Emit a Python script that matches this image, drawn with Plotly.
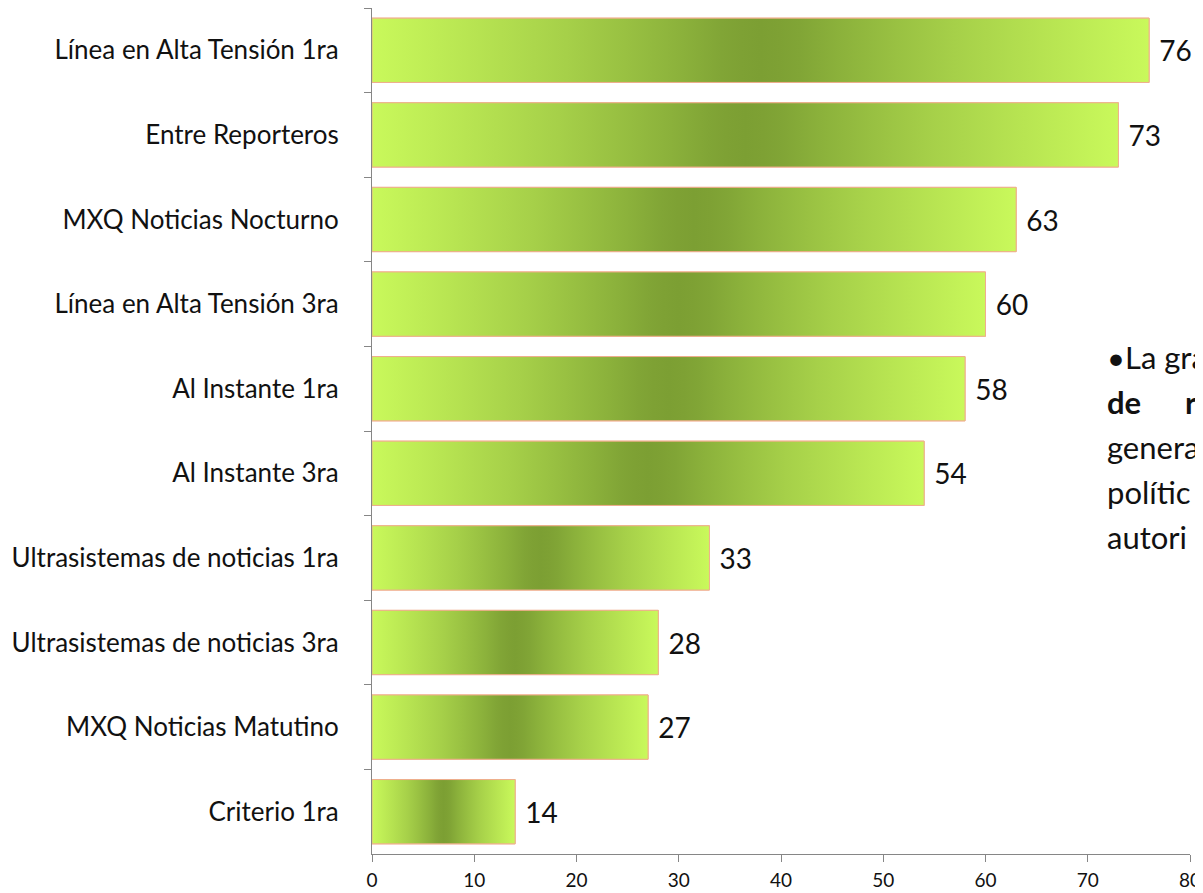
import plotly.graph_objects as go

categories = [
    "Línea en Alta Tensión 1ra",
    "Entre Reporteros",
    "MXQ Noticias Nocturno",
    "Línea en Alta Tensión 3ra",
    "Al Instante 1ra",
    "Al Instante 3ra",
    "Ultrasistemas de noticias 1ra",
    "Ultrasistemas de noticias 3ra",
    "MXQ Noticias Matutino",
    "Criterio 1ra",
]
values = [76, 73, 63, 60, 58, 54, 33, 28, 27, 14]
x_ticks = [0, 10, 20, 30, 40, 50, 60, 70, 80]

side_lines = ["•La gra", "de", "genera", "polític", "autori"]

LIGHT = "#C9F95B"
DARK = "#7C9F33"
EDGE = "#F0AE8E"
AXIS = "#868686"
FONT = "Lato"
half = 0.38

# page body has an 8px default margin: figure sized to fit the window
OFF = 8
W, H = 1203 - OFF, 893 - OFF
L, R, T, B = 372 - OFF, 13, 8 - OFF, 39

fig = go.Figure()

# base bars (data marks + value labels)
fig.add_trace(go.Bar(
    x=values, y=categories, orientation="h",
    marker=dict(color=LIGHT, line=dict(color=EDGE, width=1)),
    texttemplate="\u00a0%{x}", textposition="outside", constraintext="none",
    textfont=dict(family=FONT, size=28, color="#111111"),
    cliponaxis=False, showlegend=False, hoverinfo="x+y",
))

# gradient overlays, one per bar, built from the same values
scale = [
    [0.0, LIGHT], [0.125, "#B8E552"], [0.25, "#A6D049"], [0.325, "#99C142"],
    [0.4, "#8BB13B"], [0.45, "#81A536"], [0.475, "#7EA134"], [0.5, DARK],
    [0.525, "#7EA134"], [0.55, "#81A536"], [0.6, "#8BB13B"],
    [0.675, "#99C142"], [0.75, "#A6D049"], [0.875, "#B8E552"], [1.0, LIGHT],
]
for i, v in enumerate(values):
    fig.add_trace(go.Scatter(
        x=[0, v, v, 0, 0],
        y=[i - half, i - half, i + half, i + half, i - half],
        mode="lines", fill="toself",
        line=dict(color=EDGE, width=1),
        fillgradient=dict(type="horizontal", colorscale=scale),
        yaxis="y2", showlegend=False, hoverinfo="skip",
    ))

fig.update_layout(
    width=W, height=H,
    margin=dict(l=L, r=R, t=T, b=B, pad=0, autoexpand=False),
    paper_bgcolor="white", plot_bgcolor="white",
    bargap=0.24,
    font=dict(family=FONT, color="#111111"),
    xaxis=dict(
        range=[0, 80], tickvals=x_ticks, ticks="outside", ticklen=7,
        tickcolor=AXIS, showline=True, linecolor=AXIS, linewidth=1,
        showgrid=False, zeroline=False, automargin=False,
        tickfont=dict(family=FONT, size=19, color="#111111"),
        ticklabelstandoff=2,
    ),
    yaxis=dict(
        autorange="reversed", ticks="outside", tickson="boundaries",
        ticklen=7, tickcolor=AXIS, showline=True, linecolor=AXIS,
        linewidth=1, showgrid=False, zeroline=False, automargin=False,
        tickfont=dict(family=FONT, size=26, color="#111111"),
        ticklabelstandoff=27,
    ),
    yaxis2=dict(
        overlaying="y", range=[len(categories) - 0.5, -0.5],
        visible=False, showgrid=False, zeroline=False, automargin=False,
    ),
)

# cropped side text (slide text box cut at the right edge); page pixel helpers
plot_h = H - T - B
plot_w = W - L - R
def px_x(p):
    return (p - OFF - L) / plot_w
def px_y(p):
    return (H - B - (p - OFF)) / plot_h

centers = [357, 402, 447, 492, 537]
for k, (txt, cy) in enumerate(zip(side_lines, centers)):
    bold = (k == 1)
    fig.add_annotation(
        x=px_x(1105), y=px_y(cy), xref="paper", yref="paper",
        text=f"<b>{txt}</b>" if bold else txt,
        showarrow=False, xanchor="left", yanchor="middle",
        font=dict(family=FONT, size=31, color="#111111"),
    )
fig.add_annotation(
    x=px_x(1183), y=px_y(centers[1]), xref="paper", yref="paper",
    text="<b>r</b>", showarrow=False, xanchor="left", yanchor="middle",
    font=dict(family=FONT, size=31, color="#111111"),
)

fig.write_html("out.html")
